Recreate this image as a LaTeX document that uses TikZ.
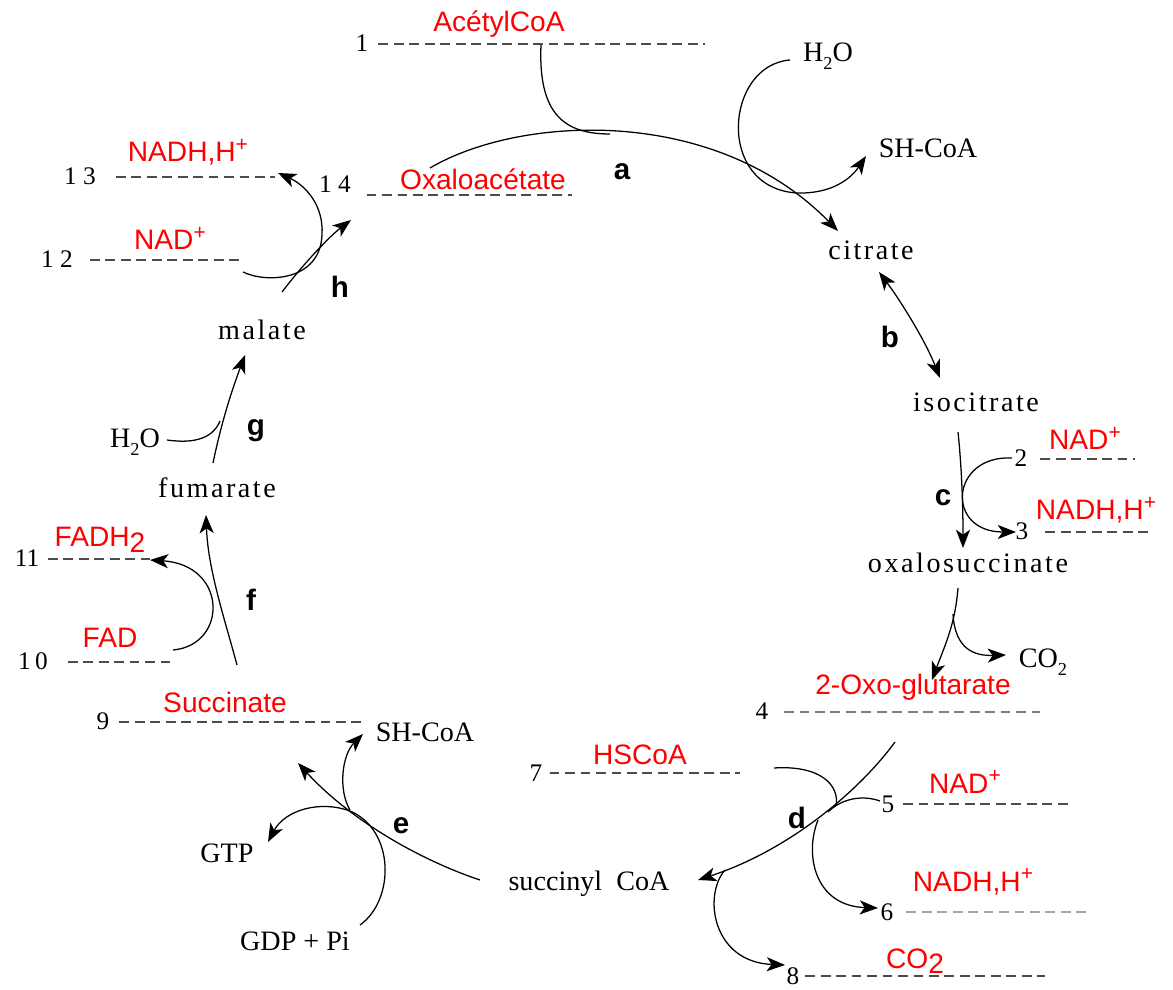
\documentclass[tikz,border=0pt]{standalone}
\usepackage{fontspec}
\setmainfont{Liberation Serif}
\newfontfamily\redsans{Liberation Sans}
\newfontfamily\spacedserif[LetterSpace=9]{Liberation Serif}
\usetikzlibrary{arrows.meta}
\newcommand{\supplus}{\raisebox{0.7ex}{\fontsize{15}{15}\selectfont +}}
\newcommand{\subtwo}{\raisebox{-0.55ex}{\fontsize{13}{13}\selectfont 2}}
\newcommand{\bigsub}{\raisebox{-0.4ex}{2}}
\begin{document}
\begin{tikzpicture}[x=0.025cm,y=-0.025cm]
  \tikzset{nm/.style={anchor=base,inner sep=1pt,font=\spacedserif\fontsize{20}{24}\selectfont},
    bk/.style={anchor=base,inner sep=1pt,font=\fontsize{20}{24}\selectfont},
    num/.style={anchor=base,inner sep=1pt,font=\fontsize{18}{22}\selectfont},
    rd/.style={anchor=base,inner sep=1pt,text=red,font=\redsans\fontsize{20}{24}\selectfont},
    lt/.style={anchor=base,inner sep=1pt,font=\redsans\bfseries\fontsize{21}{24}\selectfont},
    dl/.style={draw=black!70,line width=1.3pt,dash pattern=on 7pt off 4pt},
    ln/.style={line width=0.9pt},
    ar/.style={ln,-{Stealth[length=13pt,width=10pt,inset=3.5pt]}},
    dar/.style={ln,{Stealth[length=13pt,width=10pt,inset=3.5pt]}-{Stealth[length=13pt,width=10pt,inset=3.5pt]}}}
  \useasboundingbox (0,0) rectangle (1173,990);
  \node[num] (n1) at (362,52) {1};
  \node[rd] (acoa) at (499,32) {AcétylCoA};
  \node[num] (n14) at (335,193) {1 4};
  \node[rd] (oxa) at (483,190) {Oxaloacétate};
  \node[lt] (la) at (622,180) {a};
  \node[bk] (h2oa) at (828,62) {H\subtwo O};
  \node[bk] (shcoaa) at (928,158) {SH-CoA};
  \node[nm] (cit) at (871,260) {citrate};
  \node[lt] (lb) at (890,348) {b};
  \node[nm] (iso) at (976,412) {isocitrate};
  \node[num] (n2) at (1021,467) {2};
  \node[rd] (nadc) at (1085,450) {NAD\supplus};
  \node[lt] (lc) at (943,506) {c};
  \node[num] (n3) at (1022,540) {3};
  \node[rd] (nadhc) at (1096,520) {NADH,H\supplus};
  \node[nm] (oxs) at (968,573) {oxalosuccinate};
  \node[bk] (co2c) at (1043,668) {CO\subtwo};
  \node[rd] (oxg) at (913,695) {2-Oxo-glutarate};
  \node[num] (n4) at (762,720) {4};
  \node[num] (n7) at (536,781) {7};
  \node[rd] (hscoa) at (640,764) {HSCoA};
  \node[num] (n5) at (888,812) {5};
  \node[rd] (nadd) at (965,793) {NAD\supplus};
  \node[lt] (ld) at (797,828) {d};
  \node[bk] (scoa) at (589,890) {succinyl\ \ CoA};
  \node[rd] (nadhd) at (973,891) {NADH,H\supplus};
  \node[num] (n6) at (887,920) {6};
  \node[rd] (co2d) at (915,968) {CO\bigsub};
  \node[num] (n8) at (793,984) {8};
  \node[rd] (succ) at (225,713) {Succinate};
  \node[num] (n9) at (103,730) {9};
  \node[bk] (shcoae) at (425,742) {SH-CoA};
  \node[lt] (le) at (401,833) {e};
  \node[bk] (gtp) at (227,862) {GTP};
  \node[bk] (gdp) at (295,950) {GDP + Pi};
  \node[num] (n10) at (33,670) {1\,0};
  \node[rd] (fad) at (110,648) {FAD};
  \node[num] (n11) at (27,567) {11};
  \node[rd] (fadh) at (100,547) {FADH\bigsub};
  \node[lt] (lf) at (251,611) {f};
  \node[nm] (fum) at (217,498) {fumarate};
  \node[bk] (h2og) at (135,448) {H\subtwo O};
  \node[lt] (lg) at (256,436) {g};
  \node[nm] (mal) at (262,340) {malate};
  \node[lt] (lh) at (340,298) {h};
  \node[num] (n12) at (57,268) {1 2};
  \node[rd] (nad12) at (170,250) {NAD\supplus};
  \node[num] (n13) at (80,185) {1 3};
  \node[rd] (nadh13) at (188,162) {NADH,H\supplus};
  \draw[dl,shorten <=6pt] (n1.east) -- (n1.east -| 705,0);
  \draw[dl,shorten <=10pt] (n14.south east) -- (n14.south east -| 572,0);
  \draw[dl,shorten <=13pt] (n13.east) -- (n13.east -| 275,0);
  \draw[dl,shorten <=11pt] (n12.east) -- (n12.east -| 242,0);
  \draw[dl,shorten <=8pt] (n2.east) -- (n2.east -| 1135,0);
  \draw[dl,shorten <=11pt] (n3.east) -- (n3.east -| 1150,0);
  \draw[dl,draw=gray,shorten <=10pt] (n4.east) -- (n4.east -| 1040,0);
  \draw[dl,shorten <=4pt] (n7.east) -- (n7.east -| 740,0);
  \draw[dl,shorten <=5pt] (n5.east) -- (n5.east -| 1070,0);
  \draw[dl,draw=gray!70,shorten <=8pt] (n6.east) -- (n6.east -| 1090,0);
  \draw[dl,shorten <=3pt] (n8.east) -- (n8.east -| 1045,0);
  \draw[dl,shorten <=6pt] (n9.east) -- (n9.east -| 365,0);
  \draw[dl,shorten <=13pt] (n10.east) -- (n10.east -| 170,0);
  \draw[dl,shorten <=5pt] (n11.east) -- (n11.east -| 150,0);
  \coordinate (a0) at (430,168);
  \coordinate (a1) at (838,231);
  \coordinate (a2) at (541,45);
  \coordinate (a3) at (610,134);
  \coordinate (a4) at (790,60);
  \coordinate (a5) at (797,193);
  \coordinate (a6) at (866,156);
  \draw[ar] (a0) .. controls (520,115) and (715,105) .. (a1);
  \draw[ln] (a2) .. controls (538,115) and (565,134) .. (a3);
  \draw[ar] (a4) .. controls (725,65) and (715,188) .. (a5) .. controls (830,194) and (850,180) .. (a6);
  \coordinate (b0) at (879,272);
  \coordinate (b1) at (940,378);
  \draw[dar] (b0) .. controls (900,300) and (925,340) .. (b1);
  \coordinate (c0) at (958,432);
  \coordinate (c1) at (963,548);
  \coordinate (c2) at (1012,458);
  \coordinate (c3) at (1016,532);
  \coordinate (c4) at (958,588);
  \coordinate (c5) at (932,680);
  \coordinate (c6) at (953,614);
  \coordinate (c7) at (1006,655);
  \draw[ar] (c0) .. controls (962,470) and (963,510) .. (c1);
  \draw[ar] (c2) .. controls (950,455) and (945,532) .. (c3);
  \draw[ar] (c4) .. controls (955,625) and (945,645) .. (c5);
  \draw[ar] (c6) .. controls (955,650) and (975,656) .. (c7);
  \coordinate (d0) at (895,742);
  \coordinate (d1) at (698,880);
  \coordinate (d2) at (774,768);
  \coordinate (d3) at (836,806);
  \coordinate (d4) at (880,801);
  \coordinate (d5) at (828,812);
  \coordinate (d6) at (818,820);
  \coordinate (d7) at (878,908);
  \coordinate (d8) at (725,870);
  \coordinate (d9) at (785,965);
  \draw[ar] (d0) .. controls (860,790) and (790,850) .. (d1);
  \draw[ln] (d2) .. controls (820,765) and (840,785) .. (d3);
  \draw[ln] (d4) .. controls (860,794) and (840,800) .. (d5);
  \draw[ar] (d6) .. controls (804,855) and (815,906) .. (d7);
  \draw[ar] (d8) .. controls (703,895) and (712,962) .. (d9);
  \coordinate (e0) at (480,880);
  \coordinate (e1) at (298,763);
  \coordinate (e2) at (350,810);
  \coordinate (e3) at (363,734);
  \coordinate (e4) at (360,925);
  \coordinate (e5) at (350,811);
  \coordinate (e6) at (268,842);
  \draw[ar] (e0) .. controls (420,860) and (350,820) .. (e1);
  \draw[ar] (e2) .. controls (338,790) and (342,755) .. (e3);
  \draw[ar] (e4) .. controls (395,900) and (395,830) .. (e5) .. controls (320,800) and (285,810) .. (e6);
  \coordinate (f0) at (237,665);
  \coordinate (f1) at (206,515);
  \coordinate (f2) at (173,650);
  \coordinate (f3) at (150,560);
  \draw[ar] (f0) .. controls (225,620) and (208,570) .. (f1);
  \draw[ar] (f2) .. controls (228,645) and (228,565) .. (f3);
  \coordinate (g0) at (213,463);
  \coordinate (g1) at (245,355);
  \coordinate (g2) at (167,440);
  \coordinate (g3) at (220,421);
  \draw[ar] (g0) .. controls (222,420) and (232,390) .. (g1);
  \draw[ln] (g2) .. controls (195,444) and (213,438) .. (g3);
  \coordinate (h0) at (282,292);
  \coordinate (h1) at (351,220);
  \coordinate (h2) at (243,272);
  \coordinate (h3) at (322,235);
  \coordinate (h4) at (278,173);
  \draw[ar] (h0) .. controls (305,262) and (330,236) .. (h1);
  \draw[ar] (h2) .. controls (265,283) and (320,282) .. (h3) .. controls (324,205) and (305,185) .. (h4);
\end{tikzpicture}
\end{document}
